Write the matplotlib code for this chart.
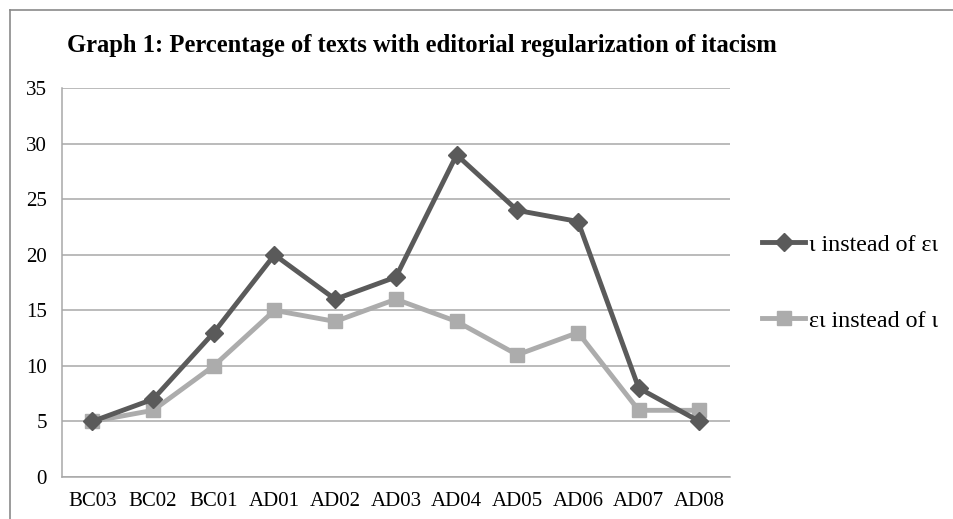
import matplotlib
matplotlib.use("Agg")
import matplotlib.pyplot as plt
from matplotlib.lines import Line2D

# Data
periods = ["BC03", "BC02", "BC01", "AD01", "AD02", "AD03", "AD04", "AD05", "AD06", "AD07", "AD08"]
iota_for_ei = [5, 7, 13, 20, 16, 18, 29, 24, 23, 8, 5]
ei_for_iota = [5, 6, 10, 15, 14, 16, 14, 11, 13, 6, 6]

plt.rcParams['font.family'] = ['Liberation Serif', 'DejaVu Serif']

fig = plt.figure(figsize=(9.54, 5.19), dpi=100)
ax = fig.add_axes([0.065, 0.081, 0.700, 0.749])

x = range(len(periods))
ax.plot(x, iota_for_ei, color="#5a5a5a", lw=3.5, marker="D", markersize=9,
        label="ι instead of ει", zorder=4)
ax.plot(x, ei_for_iota, color="#acacac", lw=3.5, marker="s", markersize=10.5,
        label="ει instead of ι", zorder=3)

ax.set_xlim(-0.5, len(periods) - 0.5)
ax.set_ylim(0, 35)
ax.set_yticks(range(0, 36, 5))
ax.set_xticks(list(x))
ax.set_xticklabels(periods)
ax.tick_params(length=0, labelsize=15, colors="black")
ax.tick_params(axis="y", pad=11)
ax.tick_params(axis="x", pad=11)
ax.yaxis.grid(True, color="#a8a8a8", lw=1.1)
ax.set_axisbelow(True)
for side in ["top", "right"]:
    ax.spines[side].set_visible(False)
for side in ["left", "bottom"]:
    ax.spines[side].set_color("#a8a8a8")
    ax.spines[side].set_linewidth(1.1)

fig.text(0.070, 0.913, "Graph 1: Percentage of texts with editorial regularization of itacism",
         fontsize=17.7, fontweight="bold", va="center", ha="left")

fig.legend(loc="center left", bbox_to_anchor=(0.799, 0.455), frameon=False,
           fontsize=17.3, handlelength=1.8, handletextpad=0.15, labelspacing=2.25,
           borderpad=0, borderaxespad=0)

# outer chart frame (top and left edges visible)
fig.add_artist(Line2D([0.0105, 1.0], [0.981, 0.981], color="#8a8a8a", lw=1.2,
                      transform=fig.transFigure))
fig.add_artist(Line2D([0.0105, 0.0105], [0.0, 0.981], color="#8a8a8a", lw=1.2,
                      transform=fig.transFigure))

fig.savefig("out.png", dpi=100)
